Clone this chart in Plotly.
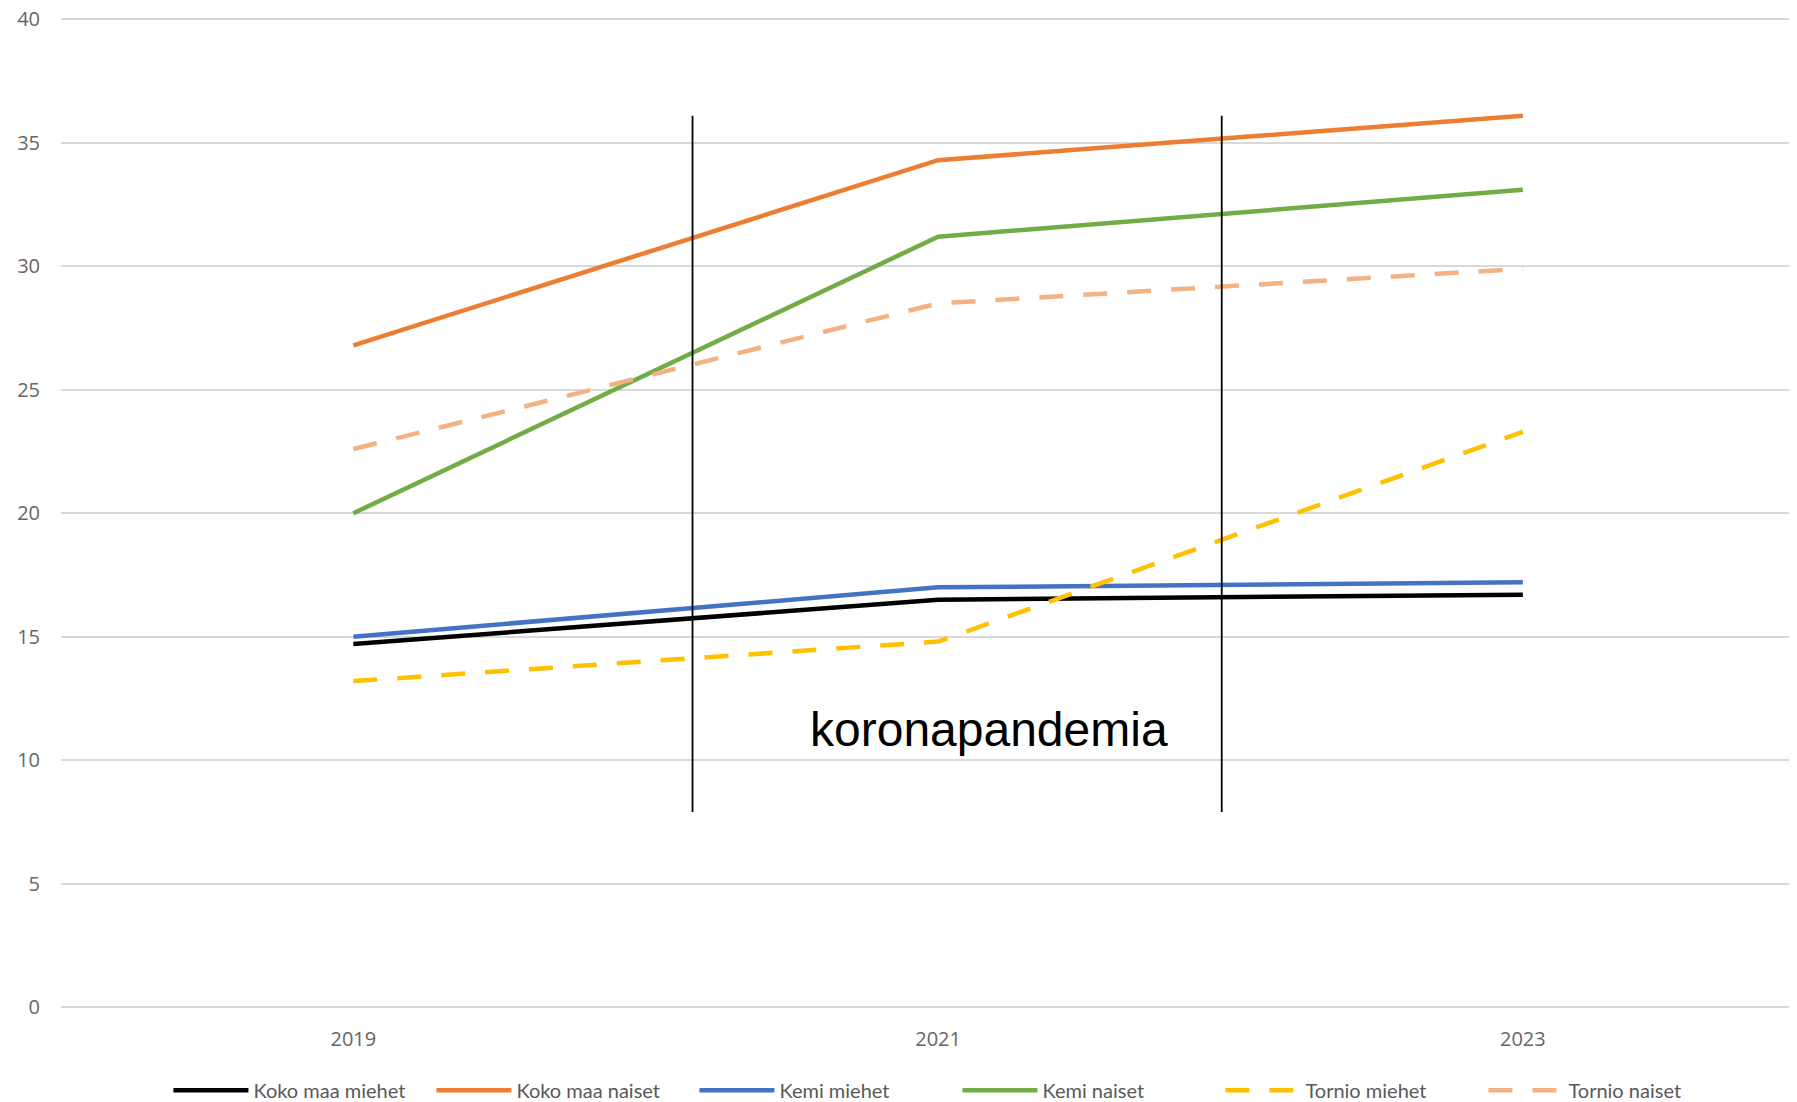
import plotly.graph_objects as go

years = [2019, 2021, 2023]

koko_maa_miehet = [14.7, 16.5, 16.7]
koko_maa_naiset = [26.8, 34.3, 36.1]
kemi_miehet = [15.0, 17.0, 17.2]
kemi_naiset = [20.0, 31.2, 33.1]
tornio_miehet = [13.2, 14.8, 23.3]
tornio_naiset = [22.6, 28.5, 29.9]

# aikajakson rajat (koronapandemia)
pandemia_alku = 2020.16
pandemia_loppu = 2021.97
pandemia_ymin, pandemia_ymax = 7.9, 36.1

series = [
    ("Koko maa miehet", koko_maa_miehet, "#000000", "solid"),
    ("Koko maa naiset", koko_maa_naiset, "#ED7D31", "solid"),
    ("Kemi miehet", kemi_miehet, "#4472C4", "solid"),
    ("Kemi naiset", kemi_naiset, "#70AD47", "solid"),
    ("Tornio miehet", tornio_miehet, "#FFC000", "24px,20px"),
    ("Tornio naiset", tornio_naiset, "#F4B183", "24px,20px"),
]

fig = go.Figure()
for name, vals, color, dash in series:
    fig.add_trace(go.Scatter(
        x=years, y=vals, name=name, mode="lines",
        line=dict(color=color, width=4.5, dash=dash),
    ))

for xv in (pandemia_alku, pandemia_loppu):
    fig.add_shape(type="line", xref="x", yref="y", layer="above",
                  x0=xv, x1=xv, y0=pandemia_ymin, y1=pandemia_ymax,
                  line=dict(color="#000000", width=1.8))

fig.add_annotation(text="koronapandemia", x=(pandemia_alku + pandemia_loppu) / 2 + 0.11,
                   y=11.25, xref="x", yref="y", showarrow=False,
                   font=dict(family="Liberation Sans, Arial", size=48, color="#000000"))

fig.update_layout(
    width=1797, height=1102,
    paper_bgcolor="white", plot_bgcolor="white",
    margin=dict(t=9, b=101, l=53, r=0),
    font=dict(family="Open Sans", size=20, color="#666666"),
    showlegend=True,
    legend=dict(orientation="h", x=0.514, xanchor="center", y=-0.084, yanchor="middle",
                font=dict(family="Lato", size=20, color="#595959"),
                itemwidth=75, entrywidth=173, entrywidthmode="pixels", tracegroupgap=0),
    xaxis=dict(range=[2018.0, 2023.965], tickvals=years, ticktext=[str(y) for y in years],
               showgrid=False, zeroline=False, showline=False, ticks="",
               ticklabelstandoff=18, automargin=False, ticklabeloverflow="allow"),
    yaxis=dict(range=[0, 40.1], tickvals=[0, 5, 10, 15, 20, 25, 30, 35, 40],
               gridcolor="#D9D9D9", gridwidth=2,
               zeroline=True, zerolinecolor="#D9D9D9", zerolinewidth=2,
               showline=False, ticks="", ticklabelstandoff=20, automargin=False,
               ticklabeloverflow="allow"),
)

fig.write_html("out.html")
